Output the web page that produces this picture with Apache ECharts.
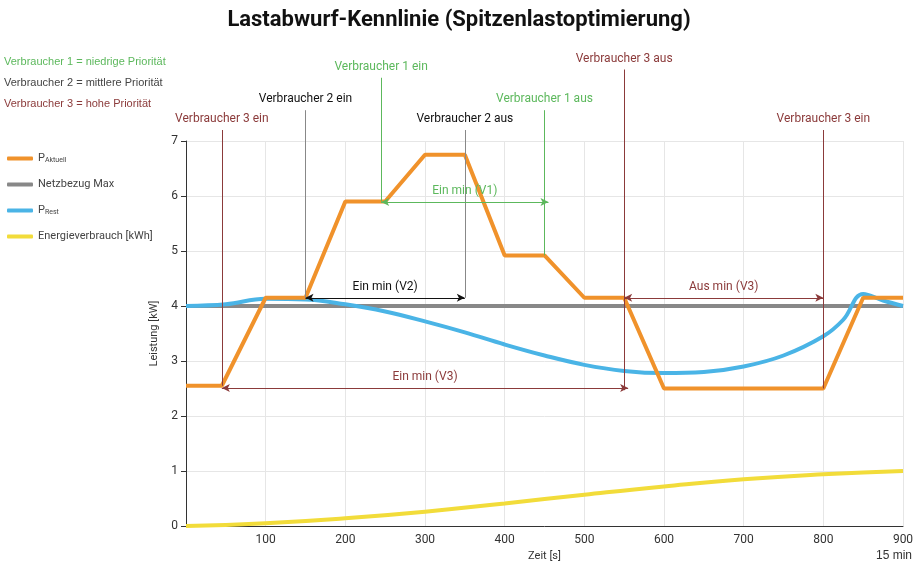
<!DOCTYPE html>
<html lang="de">
<head>
<meta charset="UTF-8">
<title>Lastabwurf-Kennlinie</title>
<style>body{margin:0}#main{width:918px;height:567px}</style>
</head>
<body>
<div id="main"></div>
<script src="https://cdn.jsdelivr.net/npm/echarts@6/dist/echarts.min.js"></script>
<script>
    var chart = echarts.init(document.getElementById('main'));

    // Daten (Zeit [s], Leistung [kW])
    var pAktuell = [[0,2.55],[45,2.55],[100,4.15],[150,4.15],[200,5.9],[250,5.9],[300,6.75],[350,6.75],
        [400,4.92],[450,4.92],[500,4.15],[550,4.15],[600,2.5],[800,2.5],[850,4.15],[900,4.15]];
    var netzMax = [[0,4],[900,4]];
    var pRest = [[0,4.0],[50,4.03],[100,4.13],[150,4.12],[200,4.03],[250,3.9],[300,3.72],[350,3.52],
        [400,3.3],[450,3.1],[500,2.93],[550,2.82],[600,2.78],[650,2.8],[700,2.9],[750,3.1],[800,3.45],
        [825,3.75],[850,4.22],[875,4.1],[900,4.0]];
    var energie = [[0,0],[100,0.05],[200,0.14],[300,0.26],[400,0.41],[500,0.57],[600,0.72],[700,0.85],[800,0.94],[900,1.0]];

    var red = '#8b3a3a', green = '#5cb85c', grey = '#888';

    function vline(x, y0, y1, text, color, txtColor) {
        return [{coord:[x,y0], symbol:'none', lineStyle:{color:color}},
                {coord:[x,y1], symbol:'none', label:{show:true, position:'end', formatter:text, color:txtColor || color, fontSize:12}}];
    }
    function hline(x0, x1, y, text, color) {
        return [{coord:[x0,y], lineStyle:{color:color}, label:{show:true, position:'insideMiddleTop', formatter:text, color:color, fontSize:12}},
                {coord:[x1,y]}];
    }

    var marks = [
        vline(45, 2.55, 7.2, 'Verbraucher 3 ein', red),
        vline(150, 4.15, 7.56, 'Verbraucher 2 ein', grey, '#111'),
        vline(245, 5.9, 8.15, 'Verbraucher 1 ein', green),
        vline(350, 4.15, 7.2, 'Verbraucher 2 aus', grey, '#111'),
        vline(450, 4.92, 7.56, 'Verbraucher 1 aus', green),
        vline(550, 2.47, 8.3, 'Verbraucher 3 aus', red),
        vline(800, 2.5, 7.2, 'Verbraucher 3 ein', red),
        hline(245, 455, 5.89, 'Ein min (V1)', green),
        hline(150, 350, 4.15, 'Ein min (V2)', '#111'),
        hline(45, 555, 2.51, 'Ein min (V3)', red),
        hline(550, 800, 4.15, 'Aus min (V3)', red)
    ];

    var rich = {s:{fontSize:7, color:'#444', verticalAlign:'bottom', padding:[4,0,0,0]}, n:{fontSize:11, color:'#444'}};

    chart.setOption({
        title: {text:'Lastabwurf-Kennlinie (Spitzenlastoptimierung)', left:'center', top:4,
            textStyle:{fontSize:22, fontWeight:'bold', color:'#111', fontFamily:'Roboto'}},
        textStyle: {fontFamily:'Roboto'},
        legend: {orient:'vertical', left:2, top:148, itemGap:15, itemWidth:26, itemHeight:4,
            icon:'roundRect', data:['PAktuell','Netzbezug Max','PRest','Energieverbrauch [kWh]'],
            formatter: function (n) {
                if (n === 'PAktuell') return '{n|P}{s|Aktuell}';
                if (n === 'PRest') return '{n|P}{s|Rest}';
                return '{n|' + n + '}';
            },
            textStyle:{rich:rich}},
        graphic: [
            {type:'text', left:4, top:56, style:{text:'Verbraucher 1 = niedrige Priorität', fill:green, fontSize:11}},
            {type:'text', left:4, top:77, style:{text:'Verbraucher 2 = mittlere Priorität', fill:'#444', fontSize:11}},
            {type:'text', left:4, top:98, style:{text:'Verbraucher 3 = hohe Priorität', fill:red, fontSize:11}},
            {type:'text', right:6, top:550, style:{text:'15 min', fill:'#333', fontSize:12}}
        ],
        grid: [
            {left:186, right:15, top:141, bottom:41},
            {left:186, right:15, top:64, bottom:41}   // same scale, taller: for annotations above 7 kW
        ],
        xAxis: [
            {type:'value', min:0, max:900, interval:100, name:'Zeit [s]', nameLocation:'middle', nameGap:22,
                nameTextStyle:{fontSize:11, color:'#333'},
                axisLabel:{showMinLabel:false, color:'#333', fontSize:12},
                axisLine:{lineStyle:{color:'#333'}}, axisTick:{show:false},
                splitLine:{lineStyle:{color:'#e6e6e6'}}},
            {type:'value', gridIndex:1, min:0, max:900, show:false}
        ],
        yAxis: [
            {type:'value', min:0, max:7, interval:1, name:'Leistung [kW]', nameLocation:'middle', nameGap:26,
                nameTextStyle:{fontSize:11, color:'#333'},
                axisLabel:{color:'#333', fontSize:12},
                axisLine:{show:true, lineStyle:{color:'#333'}},
                splitLine:{lineStyle:{color:'#e6e6e6'}}},
            {type:'value', gridIndex:1, min:0, max:8.4, show:false}
        ],
        series: [
            {name:'Netzbezug Max', type:'line', data:netzMax, symbol:'none', color:'#888', lineStyle:{width:4}},
            {name:'PRest', type:'line', data:pRest, smooth:0.4, symbol:'none', color:'#4ab4e6', lineStyle:{width:4}},
            {name:'Energieverbrauch [kWh]', type:'line', data:energie, smooth:true, symbol:'none', color:'#f2dc3a', lineStyle:{width:4}},
            {name:'PAktuell', type:'line', data:pAktuell, symbol:'none', color:'#f0922b', lineStyle:{width:4}},
            {type:'line', xAxisIndex:1, yAxisIndex:1, data:[], silent:true,
                markLine:{silent:true, symbol:['arrow','arrow'], symbolSize:[6,8], animation:false,
                    lineStyle:{type:'solid', width:1}, data:marks}}
        ]
    });
</script>
</body>
</html>
